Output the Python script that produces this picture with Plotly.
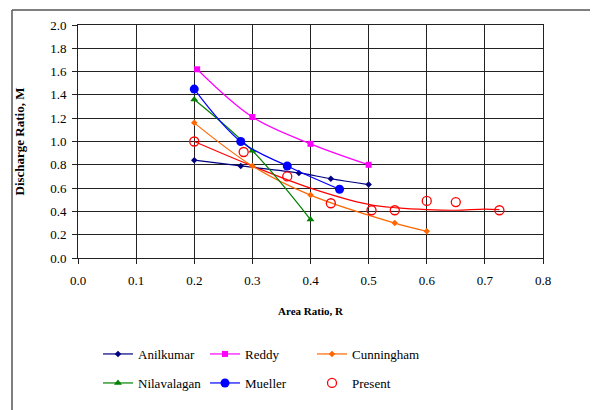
import plotly.graph_objects as go

# ---- data ----
anil_x = [0.20, 0.28, 0.38, 0.435, 0.50]
anil_y = [0.84, 0.79, 0.73, 0.68, 0.63]

reddy_x = [0.205, 0.30, 0.40, 0.50]
reddy_y = [1.62, 1.21, 0.98, 0.80]

cunn_x = [0.20, 0.30, 0.40, 0.545, 0.60]
cunn_y = [1.16, 0.79, 0.54, 0.30, 0.23]

nila_x = [0.20, 0.30, 0.40]
nila_y = [1.36, 0.92, 0.33]

muel_x = [0.20, 0.28, 0.36, 0.45]
muel_y = [1.45, 1.00, 0.79, 0.59]

pres_x = [0.20, 0.285, 0.36, 0.435, 0.505, 0.545, 0.60, 0.65, 0.725]
pres_y = [1.00, 0.91, 0.70, 0.47, 0.41, 0.41, 0.49, 0.48, 0.41]

# red trend curve through the "Present" data
trend_x = [0.20, 0.30, 0.40, 0.50, 0.55, 0.60, 0.65, 0.70, 0.725]
trend_y = [1.00, 0.79, 0.60, 0.46, 0.43, 0.415, 0.41, 0.42, 0.415]

x_ticks = [0.0, 0.1, 0.2, 0.3, 0.4, 0.5, 0.6, 0.7, 0.8]
y_ticks = [0.0, 0.2, 0.4, 0.6, 0.8, 1.0, 1.2, 1.4, 1.6, 1.8, 2.0]

FONT = "Liberation Serif, Times New Roman, DejaVu Serif, serif"

fig = go.Figure()

def line_trace(x, y, name, color, symbol, size, legend):
    return go.Scatter(x=x, y=y, name=name, mode="lines+markers",
                      line=dict(color=color, width=1.2, shape="spline"),
                      marker=dict(color=color, symbol=symbol, size=size),
                      legend=legend)

fig.add_trace(go.Scatter(x=trend_x, y=trend_y, mode="lines", showlegend=False,
                         line=dict(color="#FF0000", width=1.2, shape="spline"),
                         hoverinfo="skip"))
fig.add_trace(line_trace(anil_x, anil_y, "Anilkumar", "#000080", "diamond", 5, "legend"))
fig.add_trace(line_trace(reddy_x, reddy_y, "Reddy", "#FF00FF", "square", 6, "legend"))
fig.add_trace(line_trace(cunn_x, cunn_y, "Cunningham", "#FF6600", "diamond", 5, "legend"))
fig.add_trace(line_trace(nila_x, nila_y, "Nilavalagan", "#008000", "triangle-up", 7, "legend2"))
fig.add_trace(line_trace(muel_x, muel_y, "Mueller", "#0000FF", "circle", 9, "legend2"))
fig.add_trace(go.Scatter(x=pres_x, y=pres_y, name="Present", mode="markers",
                         marker=dict(symbol="circle-open", color="#FF0000", size=9,
                                     line=dict(width=1.3, color="#FF0000")),
                         legend="legend2"))

# page has an 8px body margin, so the figure is drawn 8px in from the window edge
OFF = 8
W, H = 598 - OFF, 410 - OFF
L, T = 78 - OFF, 25 - OFF
R = W - (543 - OFF)
B = H - (258 - OFF)
pw, ph = W - L - R, H - T - B

def px_x(p):  # p in screen pixels of the reference
    return (p - OFF - L) / pw

def px_y(p):
    return (H - B - (p - OFF)) / ph

legend_common = dict(orientation="h", xanchor="left", yanchor="middle",
                     font=dict(family=FONT, size=13, color="black"),
                     entrywidth=62, itemwidth=30, bgcolor="rgba(0,0,0,0)",
                     traceorder="normal")

fig.update_layout(
    width=W, height=H,
    margin=dict(l=L, r=R, t=T, b=B, autoexpand=False),
    paper_bgcolor="white", plot_bgcolor="white",
    font=dict(family=FONT, size=13, color="black"),
    xaxis=dict(range=[0, 0.8], tickvals=x_ticks,
               ticktext=[f"{v:.1f}" for v in x_ticks],
               showgrid=True, gridcolor="#222222", gridwidth=1,
               showline=True, linecolor="#222222", linewidth=1, mirror=True,
               zeroline=False, ticks="outside", ticklen=5, tickcolor="#222222",
               ticklabelstandoff=5,
               tickfont=dict(family=FONT, size=13), automargin=False,
               title=dict(text="<b>Area Ratio, R</b>", font=dict(family=FONT, size=11), standoff=20)),
    yaxis=dict(range=[0, 2.0], tickvals=y_ticks,
               ticktext=[f"{v:.1f}" for v in y_ticks],
               showgrid=True, gridcolor="#222222", gridwidth=1,
               showline=True, linecolor="#222222", linewidth=1, mirror=True,
               zeroline=False, ticks="outside", ticklen=5, tickcolor="#222222",
               ticklabelstandoff=3,
               tickfont=dict(family=FONT, size=13), automargin=False,
               title=dict(text="<b>Discharge Ratio, M</b>", font=dict(family=FONT, size=13), standoff=22)),
    legend=dict(x=px_x(98), y=px_y(354), **legend_common),
    legend2=dict(x=px_x(98), y=px_y(383), **legend_common),
    shapes=[
        dict(type="line", xref="paper", yref="paper",
             x0=px_x(12), x1=px_x(598), y0=px_y(10), y1=px_y(10),
             line=dict(color="#555555", width=1.5)),
        dict(type="line", xref="paper", yref="paper",
             x0=px_x(12), x1=px_x(12), y0=px_y(10), y1=px_y(410),
             line=dict(color="#555555", width=1.5)),
    ],
)

fig.write_html("out.html")
